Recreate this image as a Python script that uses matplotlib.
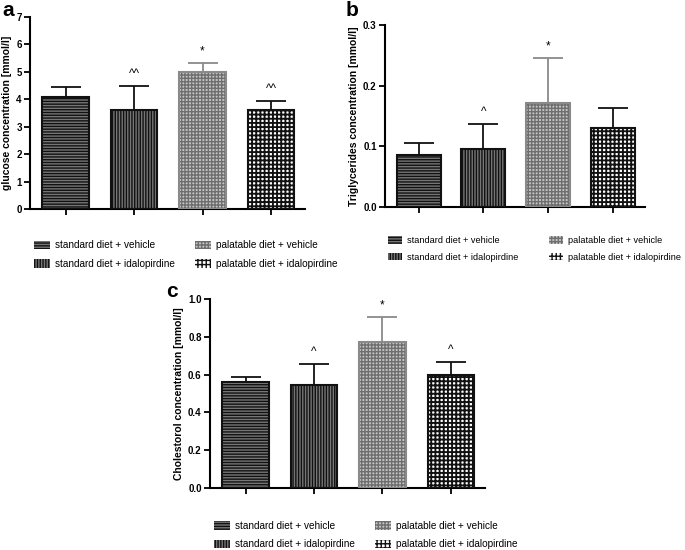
import numpy as np
import matplotlib
matplotlib.use('Agg')
import matplotlib.pyplot as plt
from matplotlib.patches import Patch

plt.rcParams['font.family'] = ['Liberation Sans', 'DejaVu Sans']

groups = ['standard diet + vehicle', 'standard diet + idalopirdine',
          'palatable diet + vehicle', 'palatable diet + idalopirdine']

glucose_mean = [4.1, 3.6, 5.0, 3.6]
glucose_err = [0.35, 0.9, 0.32, 0.33]
glucose_marks = ['', '^^', '*', '^^']

tg_mean = [0.085, 0.095, 0.171, 0.131]
tg_err = [0.02, 0.042, 0.074, 0.032]
tg_marks = ['', '^', '*', '']

chol_mean = [0.56, 0.545, 0.775, 0.598]
chol_err = [0.027, 0.113, 0.132, 0.07]
chol_marks = ['', '^', '*', '^']

# fill, hatch colour, hatch, outline, hatch line width
styles = [
    ('#767676', '#111111', '------', '#111111', 1.0),
    ('#767676', '#111111', '||||||', '#111111', 1.0),
    ('#c4c4c4', '#6e6e6e', '+++++', '#8a8a8a', 1.0),
    ('#ffffff', '#111111', '++++', '#111111', 1.35),
]


def draw_panel(fig, rect, means, errs, marks, ylim, yticks, yfmt, ylabel, letter, letter_pos,
               leg_pos, leg_fs, colspace):
    ax = fig.add_axes(rect)
    x = np.arange(len(means))
    handles = []
    for i in range(len(means)):
        fc, hc, hatch, ec, hlw = styles[i]
        with plt.rc_context({'hatch.linewidth': hlw}):
            ax.bar(x[i], means[i], width=0.68, color=fc, edgecolor=hc, hatch=hatch, linewidth=0, zorder=2)
            handles.append(Patch(facecolor=fc, edgecolor=hc, hatch=hatch, linewidth=0))
        ax.bar(x[i], means[i], width=0.68, fill=False, edgecolor=ec, linewidth=1.5, zorder=3)
        ax.errorbar(x[i], means[i], yerr=[[0], [errs[i]]], fmt='none', ecolor=ec,
                    elinewidth=1.3, capsize=11, capthick=1.3, zorder=1)
        if marks[i]:
            ax.text(x[i], means[i] + errs[i] + (ylim[1] * 0.03), marks[i], ha='center', va='bottom',
                    fontsize=8.5)
    ax.set_xlim(-0.52, 3.5)
    ax.set_ylim(*ylim)
    ax.set_yticks(yticks)
    ax.set_yticklabels([yfmt.format(v) for v in yticks], fontsize=7, fontweight='bold')
    ax.set_xticks(x)
    ax.set_xticklabels([])
    ax.spines['top'].set_visible(False)
    ax.spines['right'].set_visible(False)
    ax.spines['left'].set_linewidth(1.5)
    ax.spines['bottom'].set_linewidth(1.5)
    ax.tick_params(width=1.3, length=4, pad=2)
    ax.set_ylabel(ylabel, fontsize=7.5, fontweight='bold', labelpad=3)
    fig.text(letter_pos[0], letter_pos[1], letter, fontsize=15, fontweight='bold', ha='left', va='top')

    ax.legend(handles, groups, loc='upper left', bbox_to_anchor=leg_pos, bbox_transform=fig.transFigure,
              ncol=2, frameon=False, fontsize=leg_fs, handlelength=1.6, handleheight=0.9,
              handletextpad=0.5, columnspacing=colspace, labelspacing=0.85, borderpad=0, borderaxespad=0)
    return ax


fig = plt.figure(figsize=(6.85, 5.5), dpi=100)

draw_panel(fig, [0.044, 0.62, 0.4015, 0.349], glucose_mean, glucose_err, glucose_marks,
           (0, 7), list(range(8)), '{:d}', 'glucose concentration [mmol/l]', 'a', (0.004, 0.998),
           (0.05, 0.563), 7.2, 2.0)
draw_panel(fig, [0.562, 0.6236, 0.3796, 0.331], tg_mean, tg_err, tg_marks,
           (0, 0.3), [0.0, 0.1, 0.2, 0.3], '{:.1f}', 'Triglycerides concentration [mmol/l]', 'b',
           (0.505, 0.998), (0.566, 0.571), 6.6, 3.3)
draw_panel(fig, [0.3066, 0.1127, 0.4015, 0.3436], chol_mean, chol_err, chol_marks,
           (0, 1.0), [0.0, 0.2, 0.4, 0.6, 0.8, 1.0], '{:.1f}', 'Cholestorol concentration [mmol/l]', 'c',
           (0.243, 0.488), (0.313, 0.053), 7.2, 2.0)

plt.savefig('out.png', dpi=100)
